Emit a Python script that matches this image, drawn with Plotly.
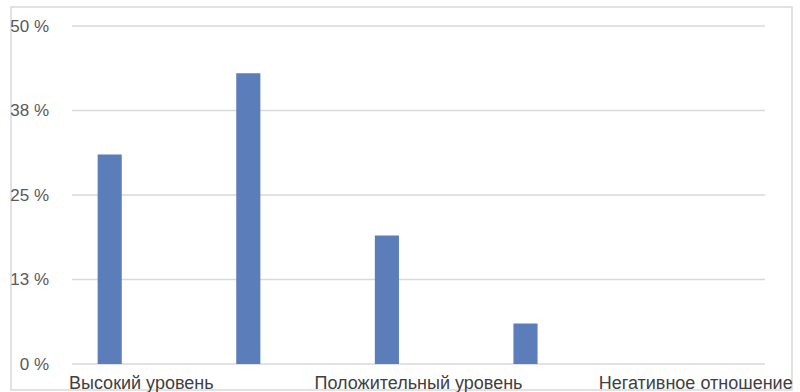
import plotly.graph_objects as go

categories = ["Высокий уровень", "", "Положительный уровень", "", "Негативное отношение"]
values = [31, 43, 19, 6, 0]
y_tickvals = [0, 12.5, 25, 37.5, 50]
y_ticktext = ["0 %", "13 %", "25 %", "38 %", "50 %"]

xpos = list(range(1, len(values) + 1))
label_pos = [p for p, c in zip(xpos, categories) if c]
label_txt = [c for c in categories if c]

fig = go.Figure()
fig.add_trace(go.Bar(
    x=xpos, y=values,
    width=0.174, offset=-0.315,
    marker=dict(color="#5b7dba", line=dict(width=0)),
    hoverinfo="x+y",
))

grid_shapes = [
    dict(type="line", xref="paper", yref="y", x0=0, x1=1, y0=v, y1=v,
         line=dict(color="#d9d9d9", width=1.5), layer="below")
    for v in y_tickvals
]

font_family = "Liberation Sans, Arial, sans-serif"
fig.update_layout(
    width=800, height=392,
    margin=dict(l=72, r=35, t=22, b=24),
    paper_bgcolor="white", plot_bgcolor="white",
    showlegend=False,
    font=dict(family=font_family, size=17, color="#595959"),
    xaxis=dict(
        range=[0.5, 5.5], automargin=False,
        tickmode="array", tickvals=label_pos, ticktext=label_txt,
        showgrid=False, zeroline=False,
        showline=False, ticks="",
        tickfont=dict(size=18, color="#404040"),
        ticklabelstandoff=2,
    ),
    yaxis=dict(
        range=[-0.6, 50.6], automargin=False,
        tickmode="array", tickvals=y_tickvals, ticktext=y_ticktext,
        showgrid=False, zeroline=False,
        showline=False, ticks="",
        tickfont=dict(size=17, color="#595959"),
        ticklabelstandoff=22,
    ),
    shapes=[
        dict(type="rect", xref="paper", yref="paper",
             x0=(11 - 72) / 693, x1=(792 - 72) / 693,
             y0=(368 - 390) / 346, y1=(368 - 7) / 346,
             line=dict(color="#d9d9d9", width=1.5), fillcolor="rgba(0,0,0,0)",
             layer="below"),
    ] + grid_shapes,
)

fig.write_html("out.html")
